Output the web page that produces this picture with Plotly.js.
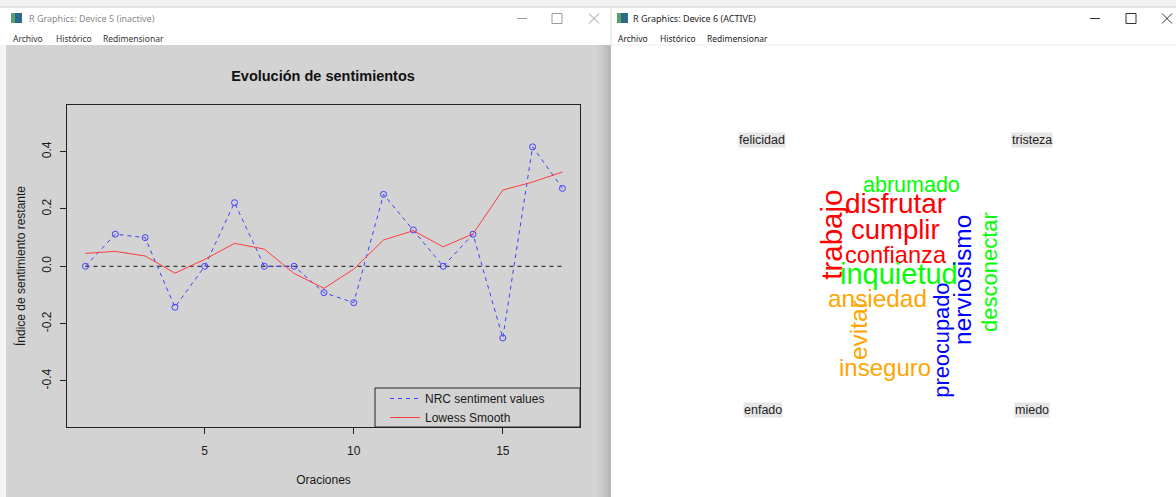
<!DOCTYPE html>
<html>
<head>
<meta charset="utf-8">
<script src="https://cdn.plot.ly/plotly-3.0.1.min.js"></script>
<style>
html,body{margin:0;padding:0;background:#ffffff;overflow:hidden;}
#chart{width:1176px;height:497px;}
</style>
</head>
<body>
<div id="chart"></div>
<script>
// ---------------- DATA ----------------
const oraciones = [1,2,3,4,5,6,7,8,9,10,11,12,13,14,15,16,17];
const nrcValues = [0, 0.112, 0.100, -0.143, 0, 0.222, 0, 0, -0.092, -0.127, 0.251, 0.127, 0, 0.112, -0.250, 0.417, 0.272];
const lowessValues = [0.045, 0.052, 0.036, -0.024, 0.024, 0.080, 0.060, -0.025, -0.077, -0.010, 0.092, 0.124, 0.068, 0.113, 0.266, 0.294, 0.329];
const seriesNames = ['NRC sentiment values', 'Lowess Smooth'];
const xTickVals = [5, 10, 15];
const yTickVals = [-0.4, -0.2, 0, 0.2, 0.4];
const yTickText = ['-0.4', '-0.2', '0.0', '0.2', '0.4'];

const emotions = ['felicidad', 'tristeza', 'enfado', 'miedo'];
const cloudWords = ['trabajo','disfrutar','cumplir','confianza','abrumado','inquietud','desconectar','ansiedad','evitar','inseguro','preocupado','nerviosismo'];
const cloudGroups = ['felicidad','felicidad','felicidad','felicidad','tristeza','tristeza','tristeza','enfado','enfado','enfado','miedo','miedo'];

// ---------------- STYLE / LAYOUT (not data) ----------------
const W = 1176, H = 497;
const fx = p => p / W;
const fy = p => 1 - p / H;
const emotionColors = {felicidad:'#ff0000', tristeza:'#00ff00', enfado:'#ffa500', miedo:'#0000ff'};
// word-cloud placement in cloud coordinates [0,1]x[0,1]
const wordPlacement = {
  trabajo:     {x:0.391, y:0.580, size:29.5, angle:-90},
  disfrutar:   {x:0.504, y:0.650, size:28,   angle:0},
  cumplir:     {x:0.504, y:0.591, size:27.5, angle:0},
  confianza:   {x:0.505, y:0.535, size:23.6, angle:0},
  abrumado:    {x:0.532, y:0.690, size:21.5, angle:0},
  inquietud:   {x:0.509, y:0.493, size:29,   angle:0},
  desconectar: {x:0.671, y:0.498, size:22,   angle:-90},
  ansiedad:    {x:0.472, y:0.440, size:24.4, angle:0},
  evitar:      {x:0.437, y:0.369, size:24.5, angle:-90},
  inseguro:    {x:0.485, y:0.287, size:24,   angle:0},
  preocupado:  {x:0.585, y:0.347, size:21.8, angle:-90},
  nerviosismo: {x:0.621, y:0.480, size:24.4, angle:-90}
};
const labelPlacement = {
  felicidad:{x:0.268, y:0.790}, tristeza:{x:0.745, y:0.790},
  enfado:{x:0.269, y:0.192}, miedo:{x:0.745, y:0.192}
};

const FONT = 'Liberation Sans, Arial, sans-serif';
const UIFONT = 'Noto Sans, Liberation Sans, sans-serif';

// ---------------- TRACES ----------------
const traces = [
  { // reference line at zero spanning the sentences
    x: [oraciones[0], oraciones[oraciones.length-1]], y: [0, 0],
    type: 'scatter', mode: 'lines', xaxis: 'x', yaxis: 'y',
    line: {color: '#111111', width: 1, dash: '4px,4px'},
    showlegend: false, hoverinfo: 'skip'
  },
  {
    x: oraciones, y: nrcValues, type: 'scatter', mode: 'lines+markers',
    name: seriesNames[0], xaxis: 'x', yaxis: 'y',
    line: {color: '#4040ff', width: 1, dash: '4px,4px'},
    marker: {symbol: 'circle-open', size: 6, color: '#4040ff', line: {width: 1}},
    showlegend: false
  },
  {
    x: oraciones, y: lowessValues, type: 'scatter', mode: 'lines',
    name: seriesNames[1], xaxis: 'x', yaxis: 'y',
    line: {color: '#ff3c3c', width: 1},
    showlegend: false
  },
  { // legend entries
    x: [null], y: [null], type: 'scatter', mode: 'lines', name: seriesNames[0],
    xaxis: 'x', yaxis: 'y', line: {color: '#4040ff', width: 1, dash: '4px,4px'}, showlegend: true
  },
  {
    x: [null], y: [null], type: 'scatter', mode: 'lines', name: seriesNames[1],
    xaxis: 'x', yaxis: 'y', line: {color: '#ff3c3c', width: 1}, showlegend: true
  }
];

// ---------------- SHAPES (window chrome) ----------------
const rect = (x0,y0,x1,y1,fill,line) => ({type:'rect', xref:'paper', yref:'paper', layer:'below',
  x0:fx(x0), x1:fx(x1), y0:fy(y1), y1:fy(y0), fillcolor:fill, line: line || {width:0}});
const seg = (x0,y0,x1,y1,color,w) => ({type:'line', xref:'paper', yref:'paper', layer:'above',
  x0:fx(x0), x1:fx(x1), y0:fy(y0), y1:fy(y1), line:{color:color, width:w||1}});

const shapes = [
  rect(0,0,1176,7,'#f1f1f1'),
  // left window
  rect(0,7,611,45,'#ffffff'),
  rect(0,45,6,497,'#f4f4f4'),
  rect(6,45,611,497,'#d3d3d3'),
  rect(598,45,602,497,'#cdcdcd'),
  rect(602,45,605,497,'#c6c6c6'),
  rect(605,45,608,497,'#bfbfbf'),
  rect(608,45,611,497,'#b8b8b8'),
  rect(11,13,22,23,'#2d6a8a'),
  rect(11,13,15,23,'#58a06a'),
  // right window
  rect(611,7,1176,45,'#ffffff'),
  rect(611,45,1176,497,'#ffffff'),
  rect(617,13,628,23,'#2d6a8a'),
  rect(617,13,621,23,'#58a06a'),
  seg(0,7,1176,7,'#d0d0d0',1),
  seg(611,45,1176,45,'#ececec',1),
  seg(611,7,611,45,'#dddddd',1),
  // window controls left (inactive)
  seg(517,18.5,527,18.5,'#9a9a9a',1),
  rect(552,13.5,562,23.5,'rgba(0,0,0,0)',{color:'#9a9a9a',width:1}),
  seg(589,13.5,599,23.5,'#9a9a9a',1),
  seg(589,23.5,599,13.5,'#9a9a9a',1),
  // window controls right (active)
  seg(1090,18.5,1100,18.5,'#333333',1),
  rect(1126,13.5,1136,23.5,'rgba(0,0,0,0)',{color:'#333333',width:1}),
  seg(1162,13.5,1172,23.5,'#333333',1),
  seg(1162,23.5,1172,13.5,'#333333',1),
  // legend frame
  {type:'rect', xref:'paper', yref:'paper', layer:'above', x0:fx(375), x1:fx(580), y0:fy(427), y1:fy(388),
   line:{color:'#222222', width:1}, fillcolor:'rgba(0,0,0,0)'}
];

// ---------------- ANNOTATIONS ----------------
const ann = [];
const uiText = (text, x, y, color, size) => ann.push({text:text, xref:'paper', yref:'paper', x:fx(x), y:fy(y),
  xanchor:'left', yanchor:'middle', showarrow:false, font:{family:UIFONT, size:size||9, color:color}});
uiText('R Graphics: Device 5 (inactive)', 27, 18.5, '#8a8a8a', 9);
uiText('Archivo', 11, 38, '#333333', 8.5);
uiText('Histórico', 54, 38, '#333333', 8.5);
uiText('Redimensionar', 101, 38, '#333333', 8.5);
uiText('R Graphics: Device 6 (ACTIVE)', 631, 18.5, '#222222', 9);
uiText('Archivo', 616, 38, '#222222', 8.5);
uiText('Histórico', 658, 38, '#222222', 8.5);
uiText('Redimensionar', 705, 38, '#222222', 8.5);

// word cloud group labels
emotions.forEach(e => {
  const p = labelPlacement[e];
  ann.push({text:e, xref:'x2', yref:'y2', x:p.x, y:p.y, showarrow:false, xanchor:'center', yanchor:'middle',
    bgcolor:'#e6e6e6', borderpad:0, font:{family:FONT, size:12.5, color:'#222222'}});
});
// words
cloudWords.forEach((w, i) => {
  const p = wordPlacement[w];
  ann.push({text:w, xref:'x2', yref:'y2', x:p.x, y:p.y, showarrow:false, textangle:p.angle,
    xanchor:'center', yanchor:'middle', borderpad:0,
    font:{family:FONT, size:p.size, color:emotionColors[cloudGroups[i]]}});
});

// ---------------- LAYOUT ----------------
const layout = {
  width: W, height: H,
  margin: {l:0, r:0, t:0, b:0, pad:0},
  paper_bgcolor: '#ffffff',
  plot_bgcolor: 'rgba(0,0,0,0)',
  font: {family: FONT, size: 12, color: '#1a1a1a'},
  title: {text: '<b>Evolución de sentimientos</b>', x: fx(323), y: fy(76), xref:'paper', yref:'paper',
    xanchor: 'center', yanchor: 'middle', font: {family: FONT, size: 14.5, color: '#111111'}},
  showlegend: true,
  legend: {x: fx(385), y: fy(384), xanchor: 'left', yanchor: 'top', bgcolor: 'rgba(0,0,0,0)',
    borderwidth: 0, font: {family: FONT, size: 12, color: '#1a1a1a'}, tracegroupgap: 0, itemwidth: 30},
  xaxis: {
    domain: [fx(67), fx(580)], range: [0.38, 17.59], anchor: 'y',
    showline: true, mirror: true, linecolor: '#222222', linewidth: 1,
    showgrid: false, zeroline: false,
    tickmode: 'array', tickvals: xTickVals, ticks: 'outside', ticklen: 6, tickcolor: '#222222',
    tickfont: {family: FONT, size: 12, color: '#1a1a1a'}, ticklabelstandoff: 7,
    title: {text: 'Oraciones', standoff: 18, font: {family: FONT, size: 12, color: '#1a1a1a'}},
    fixedrange: true
  },
  yaxis: {
    domain: [fy(427), fy(105)], range: [-0.561, 0.563], anchor: 'x',
    showline: true, mirror: true, linecolor: '#222222', linewidth: 1,
    showgrid: false, zeroline: false,
    tickmode: 'array', tickvals: yTickVals, ticktext: yTickText, ticks: 'outside', ticklen: 6, tickcolor: '#222222',
    tickangle: -90, tickfont: {family: FONT, size: 12, color: '#1a1a1a'}, ticklabelstandoff: 4,
    title: {text: 'Índice de sentimiento restante', standoff: 12, font: {family: FONT, size: 12, color: '#1a1a1a'}},
    fixedrange: true
  },
  xaxis2: {domain: [fx(611), 1], range: [0, 1], anchor: 'y2', visible: false, fixedrange: true},
  yaxis2: {domain: [0, fy(45)], range: [0, 1], anchor: 'x2', visible: false, fixedrange: true},
  shapes: shapes,
  annotations: ann
};

Plotly.newPlot('chart', traces, layout, {displayModeBar: false, staticPlot: true});
</script>
</body>
</html>
